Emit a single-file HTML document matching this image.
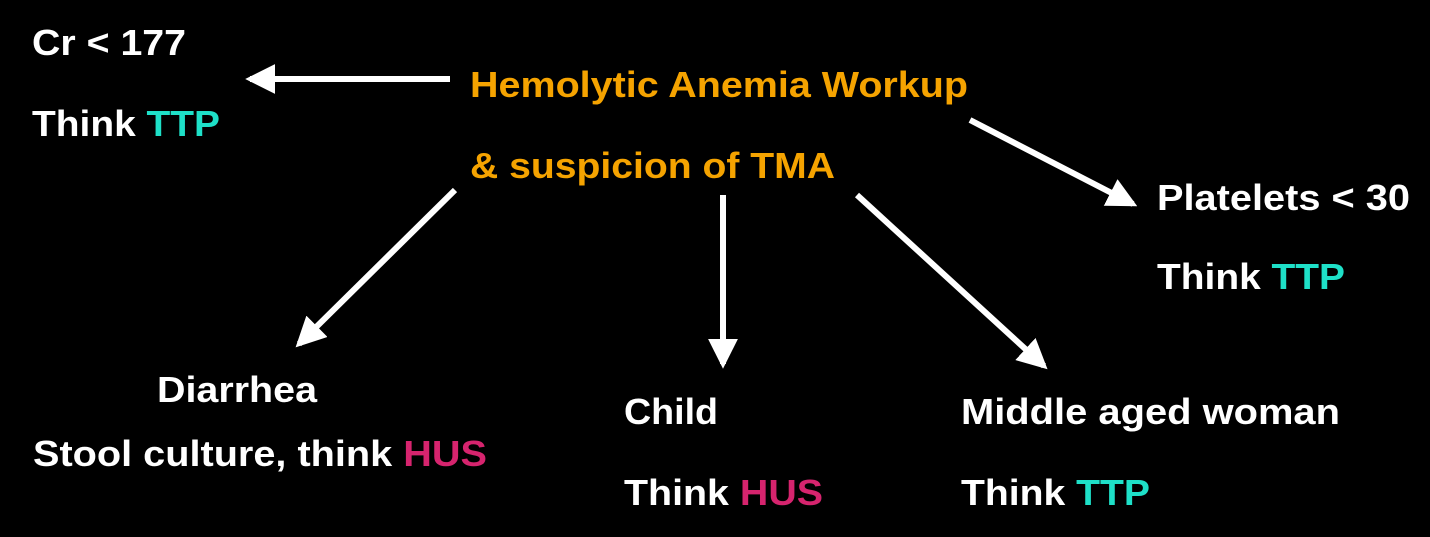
<!DOCTYPE html>
<html><head><style>
html,body{margin:0;padding:0;background:#000;}
svg{display:block;}
text{font-family:"Liberation Sans",Arial,sans-serif;font-weight:bold;font-size:36px;fill:#fff;}
.o{fill:#f5a300;}
.t{fill:#1ee0c8;}
.h{fill:#d6246e;}
</style></head><body>
<svg width="1430" height="537" viewBox="0 0 1430 537">
<rect width="1430" height="537" fill="#000"/>
<defs>
<marker id="a" markerWidth="5" markerHeight="5" refX="4.2" refY="2.5" orient="auto" markerUnits="strokeWidth">
<path d="M0,0 L5,2.5 L0,5 z" fill="#fff"/>
</marker>
</defs>
<g stroke="#fff" stroke-width="6" fill="none">
<line x1="450" y1="79" x2="250" y2="79" marker-end="url(#a)"/>
<line x1="970" y1="120" x2="1133" y2="204" marker-end="url(#a)"/>
<line x1="455" y1="190" x2="299" y2="344" marker-end="url(#a)"/>
<line x1="723" y1="195" x2="723" y2="364" marker-end="url(#a)"/>
<line x1="857" y1="195" x2="1044" y2="366" marker-end="url(#a)"/>
</g>
<text x="32" y="55" textLength="154" lengthAdjust="spacingAndGlyphs">Cr &lt; 177</text>
<text x="32" y="136" textLength="188" lengthAdjust="spacingAndGlyphs">Think <tspan class="t">TTP</tspan></text>
<text class="o" x="470" y="97" textLength="498" lengthAdjust="spacingAndGlyphs">Hemolytic Anemia Workup</text>
<text class="o" x="470" y="178" textLength="365" lengthAdjust="spacingAndGlyphs">&amp; suspicion of TMA</text>
<text x="1157" y="210" textLength="253" lengthAdjust="spacingAndGlyphs">Platelets &lt; 30</text>
<text x="1157" y="289" textLength="188" lengthAdjust="spacingAndGlyphs">Think <tspan class="t">TTP</tspan></text>
<text x="157" y="402" textLength="160" lengthAdjust="spacingAndGlyphs">Diarrhea</text>
<text x="33" y="466" textLength="454" lengthAdjust="spacingAndGlyphs">Stool culture, think <tspan class="h">HUS</tspan></text>
<text x="624" y="424" textLength="94" lengthAdjust="spacingAndGlyphs">Child</text>
<text x="624" y="505" textLength="199" lengthAdjust="spacingAndGlyphs">Think <tspan class="h">HUS</tspan></text>
<text x="961" y="424" textLength="379" lengthAdjust="spacingAndGlyphs">Middle aged woman</text>
<text x="961" y="505" textLength="189" lengthAdjust="spacingAndGlyphs">Think <tspan class="t">TTP</tspan></text>
</svg>
</body></html>
